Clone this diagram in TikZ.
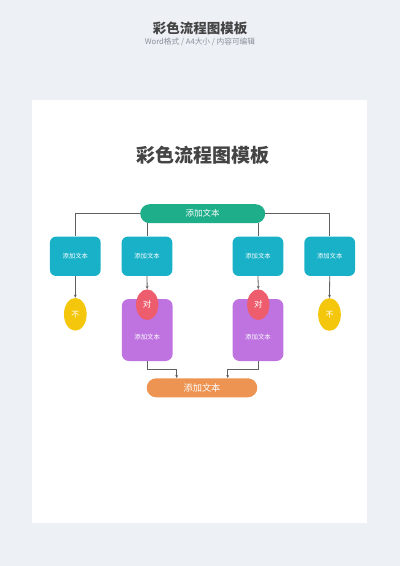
\documentclass[tikz,border=0pt]{standalone}
\usepackage{fontspec}
\setmainfont{Noto Sans CJK SC}
\usetikzlibrary{arrows.meta,calc,shapes.geometric}

\definecolor{bgGray}{HTML}{EDF0F5}
\definecolor{titleGray}{HTML}{444444}
\definecolor{subGray}{HTML}{8A8F99}
\definecolor{lineGray}{HTML}{606060}
\definecolor{flowGreen}{HTML}{1EAF8A}
\definecolor{flowCyan}{HTML}{18B1C8}
\definecolor{flowYellow}{HTML}{F5C70C}
\definecolor{flowRed}{HTML}{EE5D6E}
\definecolor{flowPurple}{HTML}{BE73E0}
\definecolor{flowOrange}{HTML}{EE9452}

\tikzset{
  pill/.style={fill=#1, text=white, rounded corners=9.5pt, inner sep=0pt,
    minimum height=19pt, font=\fontsize{8.5}{9}\selectfont},
  cbox/.style={fill=flowCyan, text=white, rounded corners=6pt, inner sep=0pt,
    minimum width=50.7pt, minimum height=39.3pt, font=\fontsize{6.3}{7}\selectfont},
  pbox/.style={fill=flowPurple, rounded corners=7pt, inner sep=0pt,
    minimum width=50.8pt, minimum height=62pt},
  oval/.style={fill=#1, text=white, ellipse, inner sep=0pt,
    minimum width=22.5pt, minimum height=31.5pt},
  line/.style={draw=lineGray, line width=0.8pt},
  arrow/.style={line, -{Stealth[length=3.2pt,width=2.8pt]}},
}

\begin{document}
\begin{tikzpicture}[x=1pt,y=-1pt]

    % 背景与白色页面
    \fill[bgGray] (0,0) rectangle (400,566);
    \useasboundingbox (0,0) rectangle (400,566);
    \fill[white] (32,100) rectangle (367,523);

    % 页眉
    \node[text=titleGray, font=\bfseries\fontsize{13.5}{14}\selectfont] (head) at (200,28.3) {彩色流程图模板};
    \node[text=subGray, font=\fontsize{7.7}{8}\selectfont] (sub) at (200,42.3) {Word格式 / A4大小 / 内容可编辑};

    % 标题
    \node[text=titleGray, font=\bfseries\fontsize{19}{20}\selectfont] (title) at (203,155) {彩色流程图模板};

    % 顶部与第二层
    \node[pill=flowGreen, minimum width=125pt] (top) at (202.7,213.7) {添加文本};
    \node[cbox] (b1) at (75.3,256.3) {添加文本};
    \node[cbox] (b2) at (147,256.3) {添加文本};
    \node[cbox] (b3) at (258,256.3) {添加文本};
    \node[cbox] (b4) at (329.7,256.3) {添加文本};

    % 紫色框
    \node[pbox] (p1) at (147.2,330) {};
    \node[pbox] (p2) at (258,330) {};
    \node[text=white, font=\fontsize{6.4}{7}\selectfont] (p1t) at (147.2,337) {添加文本};
    \node[text=white, font=\fontsize{6.4}{7}\selectfont] (p2t) at (258,337) {添加文本};

    % 判断
    \node[oval=flowYellow, minimum width=22.7pt, minimum height=32.7pt, font=\fontsize{8}{9}\selectfont] (n1) at (75.3,314.3) {不};
    \node[oval=flowYellow, minimum width=22.7pt, minimum height=32.7pt, font=\fontsize{8}{9}\selectfont] (n2) at (329.5,314.5) {不};
    \node[oval=flowRed, minimum width=22.3pt, minimum height=30.7pt, font=\fontsize{8.5}{9}\selectfont] (r1) at (147.2,304.7) {对};
    \node[oval=flowRed, minimum width=22.3pt, minimum height=30.7pt, font=\fontsize{8.5}{9}\selectfont] (r2) at (258.3,304.7) {对};

    % 底部
    \node[pill=flowOrange, minimum width=110.6pt, font=\fontsize{9.2}{10}\selectfont] (bot) at (202,387.8) {添加文本};

    % 连线
    \draw[line] (top.west) -| (b1.north);
    \draw[line] (top.east) -| (b4.north);
    \draw[line] (top.south -| b2.north) -- (b2.north);
    \draw[line] (top.south -| b3.north) -- (b3.north);
    \draw[arrow] (b1.south) -- (n1.north);
    \draw[arrow] (b2.south) -- (r1.north);
    \draw[arrow] (b3.south) -- (r2.north);
    \draw[arrow] (b4.south) -- (n2.north);

    \coordinate (j1) at (176.7,369);
    \coordinate (j2) at (227.7,369);
    \draw[arrow] (p1.south) |- (j1) -- (j1 |- bot.north);
    \draw[arrow] (p2.south) |- (j2) -- (j2 |- bot.north);

\end{tikzpicture}
\end{document}
